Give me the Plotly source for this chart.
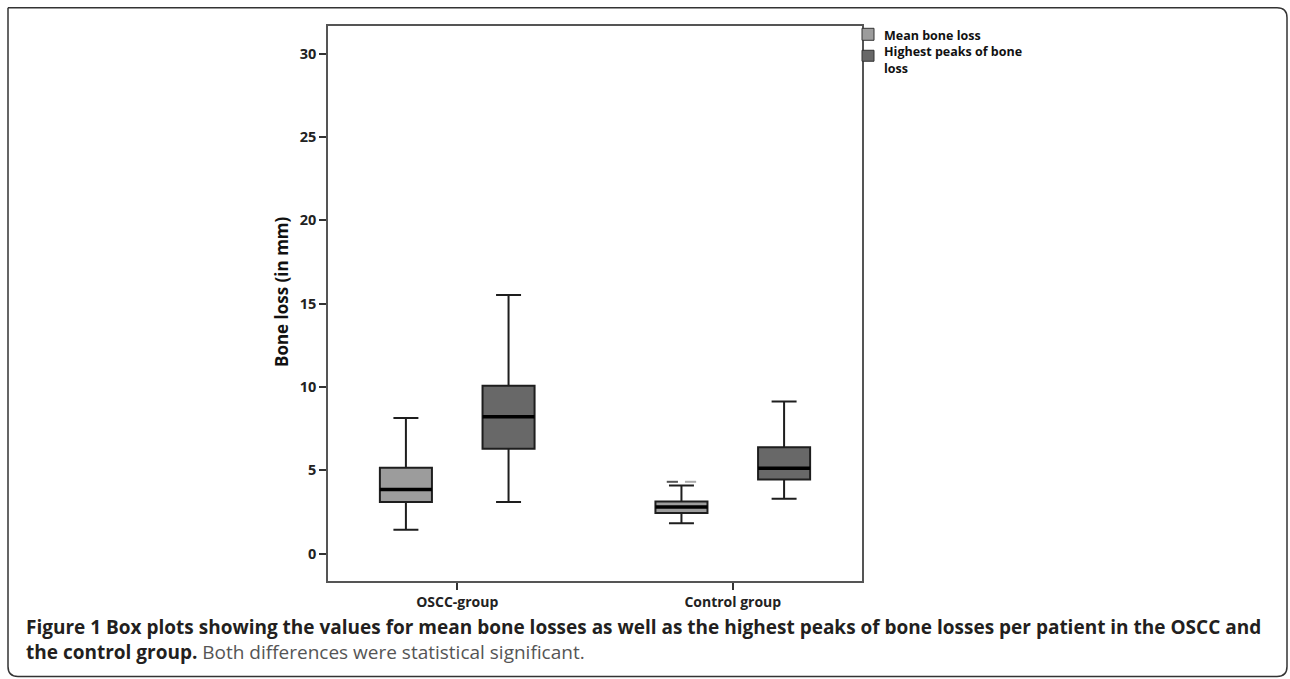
import plotly.graph_objects as go

# ---------------- data ----------------
categories = ["OSCC-group", "Control group"]
series_names = ["Mean bone loss", "Highest peaks of bone<br>loss"]

mean_lower = [1.44, 1.82]
mean_q1 = [3.10, 2.44]
mean_median = [3.85, 2.80]
mean_q3 = [5.15, 3.13]
mean_upper = [8.13, 4.09]

peak_lower = [3.10, 3.30]
peak_q1 = [6.29, 4.45]
peak_median = [8.21, 5.13]
peak_q3 = [10.07, 6.39]
peak_upper = [15.52, 9.12]

outlier_values = [4.31, 4.31]        # Control group, mean bone loss
outlier_category = 1

y_ticks = [0, 5, 10, 15, 20, 25, 30]

# ---------------- layout geometry (page pixels) ----------------
W, H = 1290, 679
PL, PR, PT, PB = 328, 862, 25.7, 581.3

def px2x(px):
    return (px - PL) / (PR - PL)

def px2y(py):
    return (PB - py) / (PB - PT)

FONT = "Open Sans"
LIGHT = "#9c9c9c"
DARK = "#686868"
LINE = "#1e1e1e"

BOXGAP = 0.255
GROUPGAP = 0.493
offset = 0.25 * (1 - BOXGAP)
half_w = 0.5 * (1 - BOXGAP) * (1 - GROUPGAP) / 2

xpos = list(range(len(categories)))

fig = go.Figure()

fig.add_trace(go.Box(
    x=xpos, q1=mean_q1, median=mean_median, q3=mean_q3,
    lowerfence=mean_lower, upperfence=mean_upper,
    name="Mean bone loss", fillcolor=LIGHT,
    line=dict(color=LINE, width=2), whiskerwidth=0.48,
    boxpoints=False, showlegend=False, hoverinfo="skip"))

fig.add_trace(go.Box(
    x=xpos, q1=peak_q1, median=peak_median, q3=peak_q3,
    lowerfence=peak_lower, upperfence=peak_upper,
    name="Highest peaks of bone loss", fillcolor=DARK,
    line=dict(color=LINE, width=2), whiskerwidth=0.48,
    boxpoints=False, showlegend=False, hoverinfo="skip"))

# thicker median lines drawn on top
mx, my = [], []
for meds, sgn in ((mean_median, -1), (peak_median, 1)):
    for i, m in zip(xpos, meds):
        c = i + sgn * offset
        mx += [c - half_w, c + half_w, None]
        my += [m, m, None]
fig.add_trace(go.Scatter(x=mx, y=my, mode="lines",
                         line=dict(color="#000000", width=3.5),
                         showlegend=False, hoverinfo="skip"))

# outlier marks
oc = outlier_category - offset
fig.add_trace(go.Scatter(
    x=[oc - 0.033, oc + 0.033], y=outlier_values, mode="markers",
    marker=dict(symbol="line-ew", size=8,
                line=dict(color=["#555555", "#aaaaaa"], width=2)),
    showlegend=False, hoverinfo="skip"))

fig.update_layout(
    width=W, height=H,
    margin=dict(l=PL, r=W - PR, t=PT, b=H - PB, pad=0),
    paper_bgcolor="white", plot_bgcolor="white",
    boxmode="group", boxgap=BOXGAP, boxgroupgap=GROUPGAP,
    showlegend=False,
    font=dict(family=FONT, color="#222222"),
)

fig.update_xaxes(
    range=[-0.469, 1.469], tickvals=xpos, ticktext=categories,
    ticks="outside", ticklen=7, tickwidth=1.5, tickcolor="#333",
    tickfont=dict(size=14, family=FONT, weight=700, color="#222"),
    showline=True, linecolor="#555", linewidth=1.5, mirror=True,
    showgrid=False, zeroline=False)

fig.update_yaxes(
    range=[-1.64, 31.65], tickvals=y_ticks,
    ticks="outside", ticklen=7, tickwidth=1.5, tickcolor="#333",
    tickfont=dict(size=14.5, family=FONT, weight=700, color="#222"),
    showline=True, linecolor="#555", linewidth=1.5, mirror=True,
    showgrid=False, zeroline=False)

ann = []
# y axis title
ann.append(dict(text="Bone loss (in mm)", x=px2x(281), y=px2y(292),
                xref="paper", yref="paper", showarrow=False, textangle=-90,
                xanchor="center", yanchor="middle",
                font=dict(size=17, family=FONT, weight=700, color="#111")))

# legend
shapes = []
for col, y0, y1 in ((LIGHT, 28, 40), (DARK, 50, 61)):
    shapes.append(dict(type="rect", xref="paper", yref="paper",
                       x0=px2x(862), x1=px2x(874), y0=px2y(y1), y1=px2y(y0),
                       fillcolor=col, line=dict(color="#333", width=1)))
ann.append(dict(text="<b>" + "<br>".join(series_names) + "</b>",
                x=px2x(882), y=px2y(25), xref="paper", yref="paper",
                showarrow=False, xanchor="left", yanchor="top", align="left",
                font=dict(size=12.5, family=FONT, color="#111")))

# caption
ann.append(dict(text="<b>Figure 1 Box plots showing the values for mean bone losses as well as the highest peaks of bone losses per patient in the OSCC and</b><br>"
                     "<b>the control group.</b> <span style='color:#555555'>Both differences were statistical significant.</span>",
                x=px2x(24), y=px2y(640), xref="paper", yref="paper",
                showarrow=False, xanchor="left", yanchor="middle", align="left",
                font=dict(size=19, family=FONT, color="#231f20")))

# outer rounded frame
fl, fr, ft, fb, rr = 8, 1287, 7.5, 677, 10
path = (f"M {px2x(fl)},{px2y(ft)} L {px2x(fr - rr)},{px2y(ft)} "
        f"Q {px2x(fr)},{px2y(ft)} {px2x(fr)},{px2y(ft + rr)} "
        f"L {px2x(fr)},{px2y(fb - rr)} "
        f"Q {px2x(fr)},{px2y(fb)} {px2x(fr - rr)},{px2y(fb)} "
        f"L {px2x(fl + rr)},{px2y(fb)} "
        f"Q {px2x(fl)},{px2y(fb)} {px2x(fl)},{px2y(fb - rr)} "
        f"L {px2x(fl)},{px2y(ft)}")
shapes.append(dict(type="path", path=path, xref="paper", yref="paper",
                   line=dict(color="#333333", width=1.5), layer="below"))

fig.update_layout(annotations=ann, shapes=shapes)

fig.write_html(
    "out.html",
    config={"displayModeBar": False},
    post_script="document.body.style.margin='0';"
                "document.body.style.overflow='hidden';",
)
